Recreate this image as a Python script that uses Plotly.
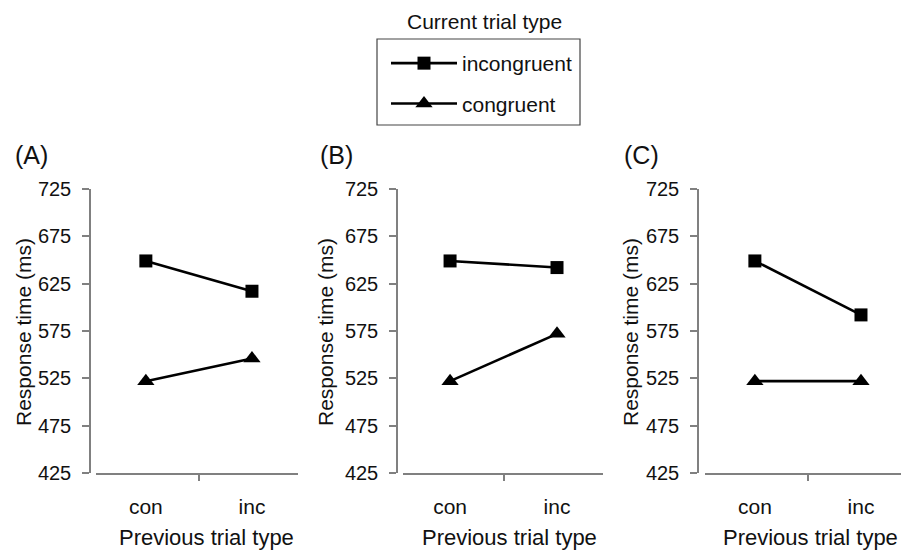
import plotly.graph_objects as go

W, H = 901, 550

categories = ["con", "inc"]
cat_pos = [0, 1]
panel_labels = ["(A)", "(B)", "(C)"]
incongruent = {
    "A": [649, 617],
    "B": [649, 642],
    "C": [649, 592],
}
congruent = {
    "A": [522, 546],
    "B": [522, 572],
    "C": [522, 522],
}
y_ticks = [425, 475, 525, 575, 625, 675, 725]
series_names = ["incongruent", "congruent"]
legend_title = "Current trial type"
x_title = "Previous trial type"
y_title = "Response time (ms)"

FONT = "Liberation Sans, Arial, sans-serif"
AXIS_GRAY = "#808080"
TXT = "#111111"


def px(X):
    return X / W


def py(Y):
    return 1 - Y / H


panels = [
    dict(key="A", x0=96, x1=298, yaxis_px=90, rng=[-0.47, 1.434], ytitle_px=23, label_px=13, xtitle_px=206),
    dict(key="B", x0=403, x1=603, yaxis_px=397, rng=[-0.44, 1.43], ytitle_px=325, label_px=318, xtitle_px=509),
    dict(key="C", x0=705, x1=None, yaxis_px=698, rng=[-0.47, 1.377], ytitle_px=630, label_px=622, xtitle_px=810),
]
y_top_px, y_bot_px = 189, 473

fig = go.Figure()
layout = dict(
    width=W, height=H, margin=dict(l=0, r=0, t=0, b=0, pad=0),
    paper_bgcolor="white", plot_bgcolor="white",
    font=dict(family=FONT, size=21, color=TXT),
    showlegend=True,
)
annotations = []
for i, p in enumerate(panels):
    n = "" if i == 0 else str(i + 1)
    xa, ya = "x" + n, "y" + n
    k = p["key"]
    fig.add_trace(go.Scatter(
        x=cat_pos, y=incongruent[k], mode="lines+markers", name=series_names[0],
        legendgroup="inc", showlegend=(i == 0),
        line=dict(color="black", width=2.6),
        marker=dict(symbol="square", size=13, color="black"),
        xaxis=xa, yaxis=ya,
    ))
    fig.add_trace(go.Scatter(
        x=cat_pos, y=congruent[k], mode="lines+markers", name=series_names[1],
        legendgroup="con", showlegend=(i == 0),
        line=dict(color="black", width=2.6),
        marker=dict(symbol="triangle-up", size=15, color="black"),
        xaxis=xa, yaxis=ya,
    ))
    x1 = 1.0 if p["x1"] is None else px(p["x1"])
    layout["xaxis" + n] = dict(
        domain=[px(p["x0"]), x1], anchor=ya, range=p["rng"], automargin=False,
        tickvals=cat_pos, ticktext=categories, ticks="outside", ticklen=14,
        tickcolor="rgba(0,0,0,0)", showline=True, linecolor=AXIS_GRAY, linewidth=1.5,
        showgrid=False, zeroline=False, tickfont=dict(size=21, color=TXT),
        minor=dict(tickvals=[0.5], ticks="outside", ticklen=6, tickcolor=AXIS_GRAY, tickwidth=1.5, showgrid=False),
        fixedrange=True,
    )
    layout["yaxis" + n] = dict(
        domain=[py(y_bot_px), py(y_top_px)], anchor="free", automargin=False,
        position=px(p["yaxis_px"]), range=[425, 725], tickvals=y_ticks,
        ticks="outside", ticklen=7, tickcolor=AXIS_GRAY, tickwidth=1.5,
        ticklabelstandoff=7,
        showline=True, linecolor=AXIS_GRAY, linewidth=1.5,
        showgrid=False, zeroline=False, tickfont=dict(size=20, color=TXT),
        fixedrange=True,
    )
    annotations.append(dict(
        text=y_title, xref="paper", yref="paper", x=px(p["ytitle_px"]), y=py(332),
        textangle=-90, showarrow=False, xanchor="center", yanchor="middle",
        font=dict(size=21, color=TXT),
    ))
    annotations.append(dict(
        text=x_title, xref="paper", yref="paper", x=px(p["xtitle_px"]), y=py(537),
        showarrow=False, xanchor="center", yanchor="middle",
        font=dict(size=22, color=TXT),
    ))
    annotations.append(dict(
        text=panel_labels[i], xref="paper", yref="paper", x=px(p["label_px"]), y=py(155),
        showarrow=False, xanchor="left", yanchor="middle",
        font=dict(size=25, color=TXT),
    ))

annotations.append(dict(
    text=legend_title, xref="paper", yref="paper", x=px(484), y=py(21),
    showarrow=False, xanchor="center", yanchor="middle", font=dict(size=21, color=TXT),
))
layout["annotations"] = annotations
layout["shapes"] = [dict(
    type="rect", xref="paper", yref="paper",
    x0=px(377), x1=px(580), y0=py(125), y1=py(39),
    line=dict(color="#444444", width=1.2), fillcolor="rgba(0,0,0,0)",
)]
layout["legend"] = dict(
    x=px(386), y=py(43), xanchor="left", yanchor="top",
    bgcolor="rgba(0,0,0,0)", borderwidth=0, itemwidth=66,
    tracegroupgap=10, font=dict(size=21, color=TXT),
)

fig.update_layout(**layout)
# remove the default 8px page margin so the 901x550 figure fills the window exactly
fig.write_html(
    "out.html",
    config={"displayModeBar": False},
    post_script="document.body.style.margin='0px';",
)
